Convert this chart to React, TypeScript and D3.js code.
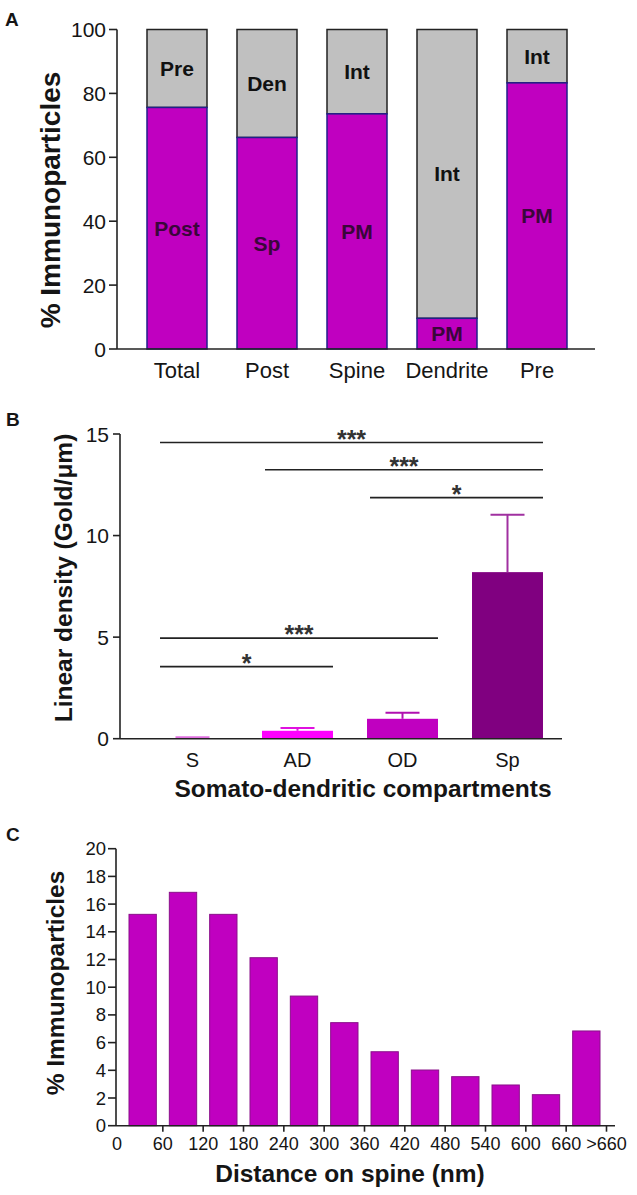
import React from 'react';
import * as d3 from 'd3';

// Panel A: stacked composition
const stackCategories = ['Total', 'Post', 'Spine', 'Dendrite', 'Pre'];
const lowerValues = [75.6, 66.2, 73.6, 9.6, 83.3];
const lowerLabels = ['Post', 'Sp', 'PM', 'PM', 'PM'];
const upperLabels = ['Pre', 'Den', 'Int', 'Int', 'Int'];
const stackTicks = [0, 20, 40, 60, 80, 100];

// Panel B: linear density
const densityCategories = ['S', 'AD', 'OD', 'Sp'];
const densityMeans = [0.01, 0.39, 0.98, 8.2];
const densityErrors = [0.06, 0.14, 0.3, 2.82];
const densityColors = ['#E070E0', '#FF00FF', '#C000C0', '#800080'];
const densityErrColors = ['#E070E0', '#E010E0', '#B010B0', '#A030A0'];
const densityTicks = [0, 5, 10, 15];
const comparisons = [
  { from: 'S', to: 'Sp', y: 14.58, label: '***' },
  { from: 'AD', to: 'Sp', y: 13.24, label: '***' },
  { from: 'OD', to: 'Sp', y: 11.87, label: '*' },
  { from: 'S', to: 'OD', y: 4.95, label: '***' },
  { from: 'S', to: 'AD', y: 3.55, label: '*' },
];

// Panel C: distance histogram
const binStarts = [0, 60, 120, 180, 240, 300, 360, 420, 480, 540, 600, 660];
const binValues = [15.26, 16.85, 15.26, 12.13, 9.36, 7.44, 5.34, 4.02, 3.54, 2.94, 2.24, 6.84];
const distTickValues = [0, 60, 120, 180, 240, 300, 360, 420, 480, 540, 600, 660, 720];
const distTickLabels = ['0', '60', '120', '180', '240', '300', '360', '420', '480', '540', '600', '660', '>660'];
const pctTicks = [0, 2, 4, 6, 8, 10, 12, 14, 16, 18, 20];

const FONT = '"Liberation Sans", Arial, Helvetica, sans-serif';
const INK = '#151515';

const App: React.FC = () => {
  // ---- A scales
  const xA = d3.scaleBand<string>().domain(stackCategories).range([132, 582])
    .paddingInner(1 / 3).paddingOuter(1 / 6);
  const yA = d3.scaleLinear().domain([0, 100]).range([349, 29.5]);
  const axisAx = 117;

  // ---- B scales
  const xB = d3.scaleBand<string>().domain(densityCategories).range([140, 560])
    .paddingInner(0.324).paddingOuter(0.162);
  const yB = d3.scaleLinear().domain([0, 15]).range([738.7, 434]);
  const axisBx = 120;

  // ---- C scales
  const xC = d3.scaleLinear().domain([0, 720]).range([122.5, 606.5]);
  const yC = d3.scaleLinear().domain([0, 20]).range([1125.7, 848.7]);
  const axisCx = 116;

  return (
    <svg width={637} height={1195} style={{ position: 'absolute', left: 0, top: 0, background: '#fff' }}
      fontFamily={FONT}>
      {/* ================= Panel A ================= */}
      <text x={5} y={26} fontSize={19} fontWeight="bold" fill={INK}>A</text>
      {stackCategories.map((c, i) => {
        const x0 = xA(c)!;
        const w = xA.bandwidth();
        const v = lowerValues[i];
        return (
          <g key={c}>
            <rect x={x0} y={yA(100)} width={w} height={yA(v) - yA(100)}
              fill="#C0C0C0" stroke="#222" strokeWidth={1.5} />
            <rect x={x0} y={yA(v)} width={w} height={yA(0) - yA(v)}
              fill="#C000C0" stroke="#20208a" strokeWidth={1.5} />
            <text x={x0 + w / 2} y={(yA(100) + yA(v)) / 2} textAnchor="middle"
              dominantBaseline="central" fontSize={21} fontWeight="bold" fill="#111">{upperLabels[i]}</text>
            <text x={x0 + w / 2} y={(yA(v) + yA(0)) / 2} textAnchor="middle"
              dominantBaseline="central" fontSize={21} fontWeight="bold" fill="#3a063a">{lowerLabels[i]}</text>
            <text x={x0 + w / 2} y={378} textAnchor="middle" fontSize={22} fill={INK}>{c}</text>
          </g>
        );
      })}
      <line x1={axisAx} x2={axisAx} y1={yA(100)} y2={yA(0)} stroke="#222" strokeWidth={1.6} />
      <line x1={axisAx} x2={595} y1={yA(0)} y2={yA(0)} stroke="#222" strokeWidth={1.6} />
      {stackTicks.map(t => (
        <g key={t}>
          <line x1={axisAx - 8} x2={axisAx} y1={yA(t)} y2={yA(t)} stroke="#222" strokeWidth={1.6} />
          <text x={axisAx - 11} y={yA(t)} textAnchor="end" dominantBaseline="central"
            fontSize={21} fill={INK}>{t}</text>
        </g>
      ))}
      <text transform="translate(50,200) rotate(-90)" textAnchor="middle" dominantBaseline="central"
        fontSize={28} fontWeight="bold" fill={INK}>% Immunoparticles</text>

      {/* ================= Panel B ================= */}
      <text x={6} y={426} fontSize={19} fontWeight="bold" fill={INK}>B</text>
      {densityCategories.map((c, i) => {
        const x0 = xB(c)!;
        const w = xB.bandwidth();
        const cx = x0 + w / 2;
        const top = yB(densityMeans[i]);
        const errTop = yB(densityMeans[i] + densityErrors[i]);
        return (
          <g key={c}>
            <rect x={x0} y={top} width={w} height={yB(0) - top} fill={densityColors[i]} />
            <line x1={cx} x2={cx} y1={top} y2={errTop} stroke={densityErrColors[i]} strokeWidth={2} />
            <line x1={cx - 17} x2={cx + 17} y1={errTop} y2={errTop} stroke={densityErrColors[i]} strokeWidth={2} />
            <text x={cx} y={767} textAnchor="middle" fontSize={20} fill={INK}>{c}</text>
          </g>
        );
      })}
      {comparisons.map((cmp, i) => {
        const x1 = xB(cmp.from)! + 3;
        const x2 = xB(cmp.to)! + xB.bandwidth();
        const yy = yB(cmp.y);
        return (
          <g key={i}>
            <line x1={x1} x2={x2} y1={yy} y2={yy} stroke="#222" strokeWidth={1.6} />
            <text x={(x1 + x2) / 2} y={yy + 5} textAnchor="middle" fontSize={25} fontWeight="bold"
              fill="#333">{cmp.label}</text>
          </g>
        );
      })}
      <line x1={axisBx} x2={axisBx} y1={yB(15)} y2={yB(0)} stroke="#222" strokeWidth={1.6} />
      <line x1={axisBx} x2={562} y1={yB(0)} y2={yB(0)} stroke="#222" strokeWidth={1.6} />
      {densityTicks.map(t => (
        <g key={t}>
          <line x1={axisBx - 7} x2={axisBx} y1={yB(t)} y2={yB(t)} stroke="#222" strokeWidth={1.6} />
          <text x={axisBx - 11} y={yB(t)} textAnchor="end" dominantBaseline="central"
            fontSize={21} fill={INK}>{t}</text>
        </g>
      ))}
      <text transform="translate(63,578) rotate(-90)" textAnchor="middle" dominantBaseline="central"
        fontSize={24.5} fontWeight="bold" fill={INK}>Linear density (Gold/μm)</text>
      <text x={363} y={797} textAnchor="middle" fontSize={24.5} fontWeight="bold" fill={INK}>
        Somato-dendritic compartments
      </text>

      {/* ================= Panel C ================= */}
      <text x={6} y={841} fontSize={19} fontWeight="bold" fill={INK}>C</text>
      {binStarts.map((b, i) => {
        const x0 = xC(b) + 6.5;
        const x1 = xC(b + 60) - 6.5;
        return (
          <rect key={b} x={x0} y={yC(binValues[i])} width={x1 - x0} height={yC(0) - yC(binValues[i])}
            fill="#C000C0" stroke="#8a108a" strokeWidth={1} />
        );
      })}
      <line x1={axisCx} x2={axisCx} y1={yC(20)} y2={yC(0)} stroke="#222" strokeWidth={1.6} />
      <line x1={axisCx} x2={615} y1={yC(0)} y2={yC(0)} stroke="#222" strokeWidth={1.6} />
      {pctTicks.map(t => (
        <g key={t}>
          <line x1={axisCx - 8} x2={axisCx} y1={yC(t)} y2={yC(t)} stroke="#222" strokeWidth={1.6} />
          <text x={axisCx - 10} y={yC(t)} textAnchor="end" dominantBaseline="central"
            fontSize={18.5} fill={INK}>{t}</text>
        </g>
      ))}
      {distTickValues.map((v, i) => {
        const tx = v === 0 ? axisCx : xC(v);
        return (
          <g key={v}>
            {v !== 0 && <line x1={tx} x2={tx} y1={yC(0)} y2={yC(0) + 6} stroke="#222" strokeWidth={1.6} />}
            <text x={tx + (v === 0 ? 1 : 0)} y={1150} textAnchor="middle" fontSize={18} fill={INK}>
              {distTickLabels[i]}
            </text>
          </g>
        );
      })}
      <text transform="translate(55,983) rotate(-90)" textAnchor="middle" dominantBaseline="central"
        fontSize={24.5} fontWeight="bold" fill={INK}>% Immunoparticles</text>
      <text x={350} y={1182} textAnchor="middle" fontSize={24.5} fontWeight="bold" fill={INK}>
        Distance on spine (nm)
      </text>
    </svg>
  );
};

export default App;
